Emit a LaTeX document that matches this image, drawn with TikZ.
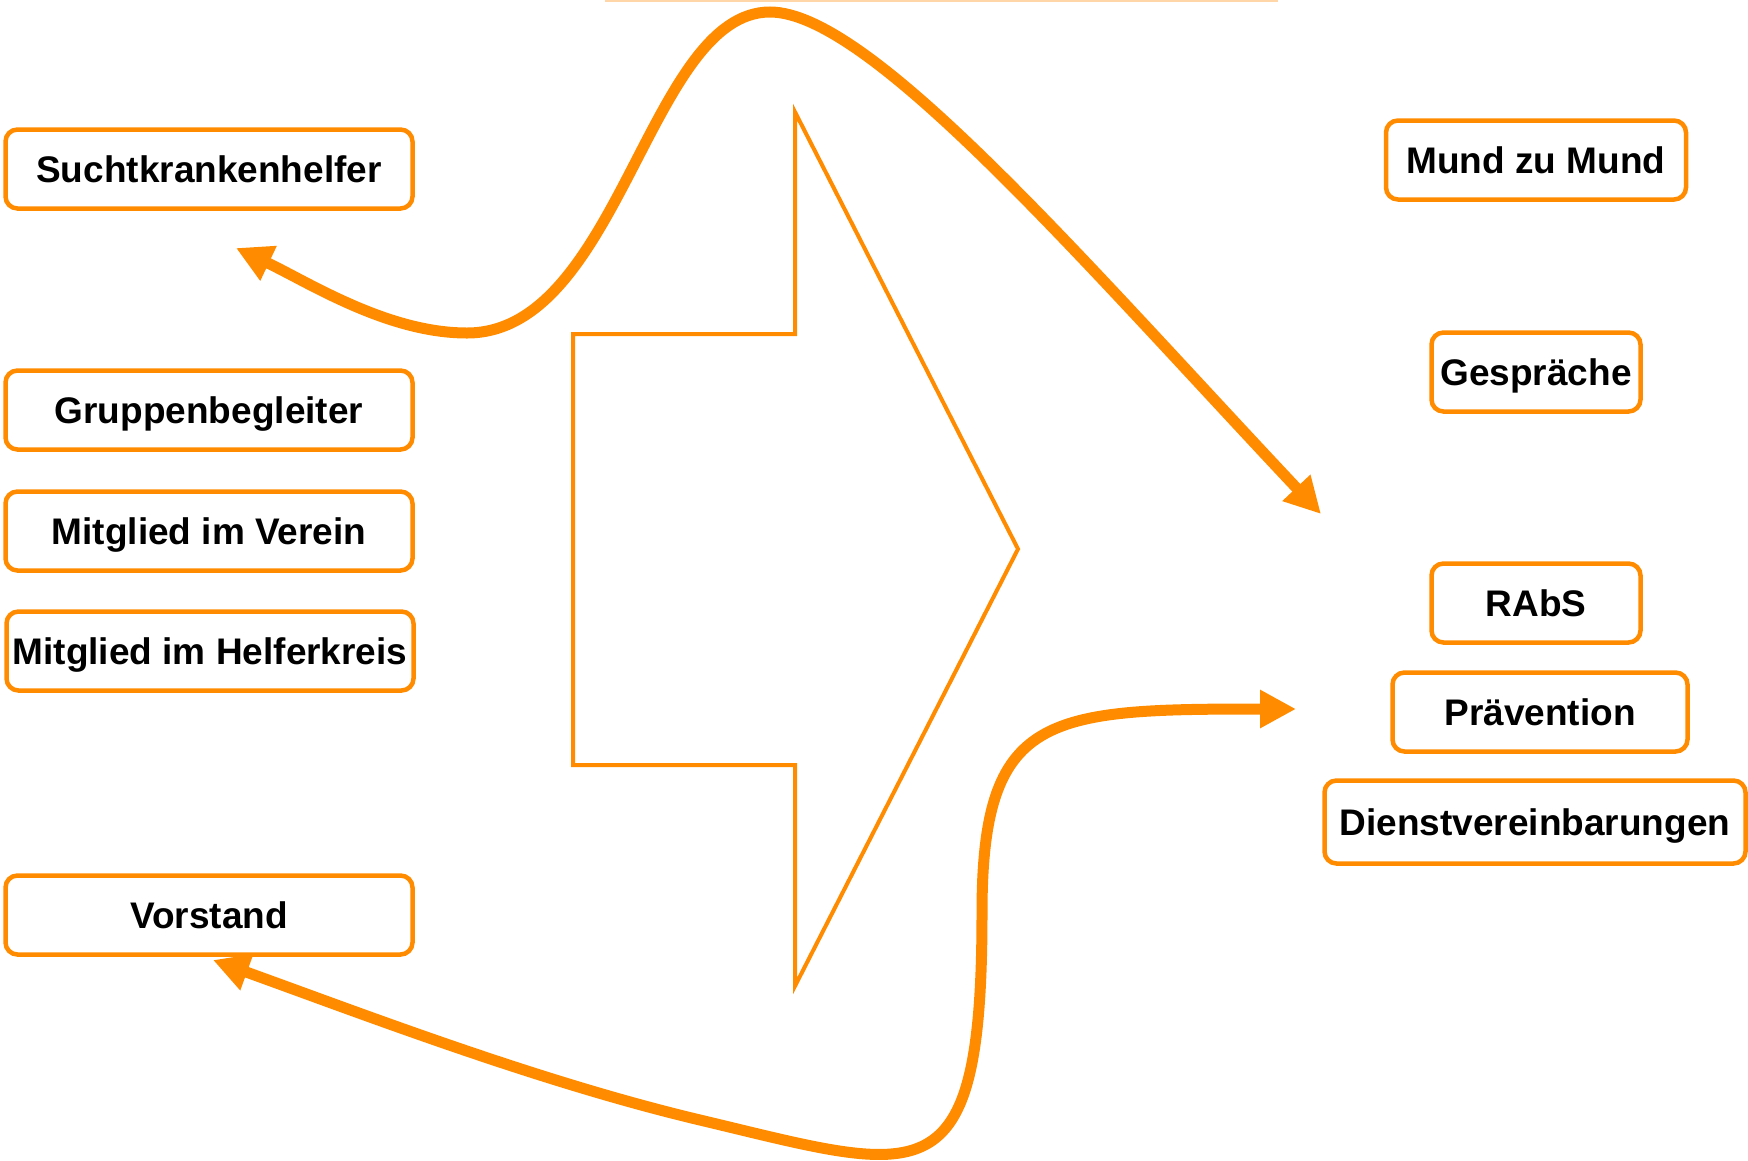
\documentclass[tikz,border=0pt]{standalone}
\usepackage{fontspec}
\setmainfont{Liberation Sans}
\usepackage{tikz}
\usetikzlibrary{arrows.meta}
\definecolor{hilite}{RGB}{255,140,0}
\definecolor{hilite-light}{RGB}{255,214,168}
\tikzstyle{item-node}=[fill=white,draw=hilite,line width=4.5pt,rounded corners=12pt,minimum height=79pt,inner sep=0pt,text height=27pt,text depth=0pt,font=\fontsize{37}{44}\selectfont\bfseries]
\tikzstyle{left-node}=[item-node,minimum width=407pt]
\tikzstyle{flow-arrow}=[draw=hilite,line width=11pt,{Triangle[length=36pt,width=36pt]}-{Triangle[length=36pt,width=36pt]}]

\begin{document}
\begin{tikzpicture}[x=1pt,y=-1pt]
        \useasboundingbox (0,0) rectangle (1748,1160);
        \begin{scope}
            % thin line at the upper edge
            \draw[hilite-light,line width=2pt] (605,1) -- (1278,1);
            % big outlined arrow
            \draw[hilite,line width=4pt,line join=miter] (573,334) -- (795,334) -- (795,112) -- (1018,549)
                -- (795,986) -- (795,765) -- (573,765) -- cycle;

            \node[left-node] at (209,169) (sucht) {Suchtkrankenhelfer};
            \node[left-node] at (209,410) (gruppe) {Gruppenbegleiter};
            \node[left-node] at (209,531) (verein) {Mitglied im Verein};
            \node[left-node] at (210,651) (helfer) {Mitglied im Helferkreis};
            \node[left-node] at (209,915) (vorstand) {Vorstand};

            \node[item-node,minimum width=300pt] at (1536,160) (mund) {Mund zu Mund};
            \node[item-node,minimum width=209pt] at (1536,372) (gespr) {Gespräche};
            \node[item-node,minimum width=209pt] at (1536,603) (rabs) {RAbS};
            \node[item-node,minimum width=295pt] at (1540,712) (praev) {Prävention};
            \node[item-node,minimum width=421pt,minimum height=83pt] at (1535,822) (dienst) {Dienstvereinbarungen};

            \coordinate (sucht-end) at (236,248);
            \coordinate (gespr-end) at (1321,514);
            \coordinate (vorstand-end) at (213,960);
            \coordinate (praev-end) at (1296,709);

            \draw[flow-arrow] (sucht-end) .. controls (308,282) and (387,333) .. (467,333)
                .. controls (619,333) and (649,12) .. (770,12)
                .. controls (870,12) and (1081,259) .. (gespr-end);
            \draw[flow-arrow] (vorstand-end) .. controls (368,1016) and (540,1082) .. (700,1120)
                .. controls (923,1173) and (982,1203) .. (982,913)
                .. controls (982,713) and (1046,709) .. (praev-end);
        \end{scope}
    \end{tikzpicture}
\end{document}
